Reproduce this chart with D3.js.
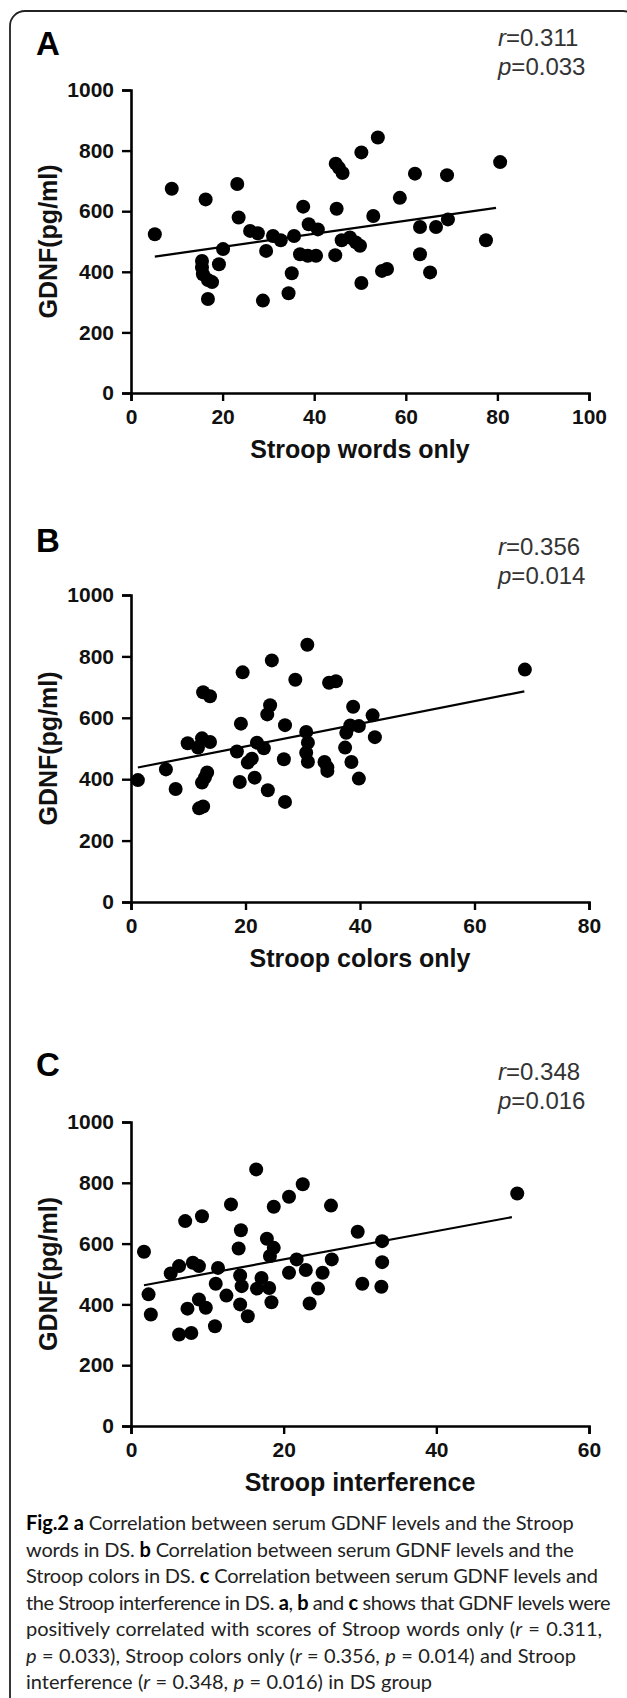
<!DOCTYPE html>
<html>
<head>
<meta charset="utf-8">
<script src="https://cdn.jsdelivr.net/npm/d3@7"></script>
<style>
  body { margin: 0; background: #fff; }
  svg { display: block; }
</style>
</head>
<body>
<div id="figure"></div>
<script>
// Stroop words only vs GDNF
const wordsX = [5.2, 8.9, 16.3, 23.2, 23.5, 26.0, 27.7, 29.5, 31.0, 32.7, 35.6, 37.6, 38.8, 40.8, 36.9, 38.6, 40.4, 35.1, 34.4, 44.7, 45.4, 46.2, 44.9, 44.6, 46.0, 47.8, 49.1, 50.0, 50.3, 53.9, 52.9, 54.8, 55.9, 50.3, 58.7, 62.0, 63.1, 63.1, 65.3, 66.6, 69.0, 69.2, 77.5, 80.6, 15.5, 15.5, 15.7, 16.8, 17.7, 16.8, 19.2, 20.1, 28.8];
const wordsY = [524, 674, 639, 690, 579, 535, 527, 469, 518, 504, 518, 615, 557, 540, 458, 453, 453, 395, 329, 757, 743, 726, 608, 455, 504, 513, 497, 486, 794, 843, 584, 403, 409, 363, 644, 724, 548, 458, 398, 548, 719, 573, 504, 762, 436, 414, 392, 373, 366, 310, 425, 475, 305];

// Stroop colors only vs GDNF
const colorsX = [1.2, 6.1, 7.8, 9.9, 11.7, 12.4, 13.8, 12.6, 13.8, 11.9, 12.6, 12.4, 12.9, 13.3, 18.5, 19.2, 19.0, 19.5, 20.4, 21.1, 21.6, 22.0, 23.2, 23.8, 24.3, 23.9, 24.6, 26.9, 26.7, 26.9, 28.7, 30.8, 30.6, 30.9, 30.6, 30.9, 33.8, 34.3, 34.3, 34.6, 35.8, 37.6, 38.3, 37.4, 38.5, 38.8, 39.8, 39.8, 42.2, 42.6, 68.8];
const colorsY = [397, 432, 368, 517, 503, 533, 521, 683, 670, 305, 311, 389, 405, 422, 490, 581, 391, 748, 454, 467, 405, 519, 501, 611, 641, 364, 787, 576, 465, 326, 724, 838, 554, 519, 486, 457, 456, 438, 427, 714, 719, 551, 575, 503, 456, 636, 573, 402, 608, 537, 757];

// Stroop interference vs GDNF
const interfX = [1.7, 2.3, 2.6, 5.2, 6.3, 8.1, 8.9, 7.1, 9.3, 6.3, 7.9, 7.4, 8.9, 9.8, 11.0, 11.1, 11.4, 12.5, 13.1, 14.1, 14.4, 14.3, 14.5, 14.3, 15.3, 16.4, 16.5, 17.1, 17.8, 18.7, 18.2, 18.1, 18.4, 18.7, 20.7, 20.7, 21.7, 22.5, 22.9, 23.4, 24.5, 25.1, 26.2, 26.3, 29.7, 30.3, 32.8, 32.9, 32.9, 50.6];
const interfY = [573, 433, 367, 502, 526, 537, 526, 674, 690, 301, 306, 386, 416, 389, 328, 468, 520, 429, 729, 584, 644, 495, 460, 400, 361, 844, 452, 487, 616, 586, 559, 454, 407, 721, 754, 504, 548, 795, 513, 403, 452, 504, 725, 548, 639, 468, 458, 539, 608, 765];

// regression line end points as drawn
const fitWordsX = [5.2, 79.7], fitWordsY = [450, 611];
const fitColorsX = [1.2, 68.7], fitColorsY = [438, 686];
const fitInterfX = [1.7, 49.9], fitInterfY = [463, 687];

// ticks
const yTicks = [0, 200, 400, 600, 800, 1000];
const wordsTicks = [0, 20, 40, 60, 80, 100];
const colorsTicks = [0, 20, 40, 60, 80];
const interfTicks = [0, 20, 40, 60];

const panelLetters = ["A", "B", "C"];
const xTitles = ["Stroop words only", "Stroop colors only", "Stroop interference"];
const rValues = ["0.311", "0.356", "0.348"];
const pValues = ["0.033", "0.014", "0.016"];

(function() {
    const width = 627, height = 1698;
    const container = d3.select("#figure");
    container.selectAll("*").remove();
    const svg = container.append("svg").attr("width", width).attr("height", height);

    svg.append("rect").attr("width", width).attr("height", height).attr("fill", "#fff");

    // outer frame, cut at right and bottom
    svg.append("rect")
        .attr("x", 10).attr("y", 11)
        .attr("width", 628).attr("height", 1730)
        .attr("rx", 15)
        .attr("fill", "none")
        .attr("stroke", "#222")
        .attr("stroke-width", 1.8);

    const panels = [
        {xs: wordsX, ys: wordsY, fx: fitWordsX, fy: fitWordsY, ticks: wordsTicks, top: 90, bottom: 393, letterY: 55, statY: 46},
        {xs: colorsX, ys: colorsY, fx: fitColorsX, fy: fitColorsY, ticks: colorsTicks, top: 595, bottom: 902, letterY: 552, statY: 555},
        {xs: interfX, ys: interfY, fx: fitInterfX, fy: fitInterfY, ticks: interfTicks, top: 1122, bottom: 1426, letterY: 1076, statY: 1080}
    ];
    const left = 131, right = 589;
    const axisFont = "'Liberation Sans', Arial, sans-serif";

    panels.forEach((p, i) => {
        const x = d3.scaleLinear()
            .domain([0, p.ticks[p.ticks.length - 1]])
            .range([left, right]);
        const y = d3.scaleLinear().domain([0, 1000]).range([p.bottom, p.top]);

        const g = svg.append("g");

        // panel letter
        g.append("text")
            .attr("x", 36).attr("y", p.letterY)
            .style("font-family", axisFont)
            .style("font-weight", "bold")
            .style("font-size", "33px")
            .text(panelLetters[i]);

        // r and p
        const stat = g.append("g")
            .style("font-family", axisFont)
            .style("font-size", "24px")
            .attr("fill", "#333");
        const rt = stat.append("text").attr("x", 498).attr("y", p.statY);
        rt.append("tspan").style("font-style", "italic").text("r");
        rt.append("tspan").text("=" + rValues[i]);
        const pt = stat.append("text").attr("x", 498).attr("y", p.statY + 29);
        pt.append("tspan").style("font-style", "italic").text("p");
        pt.append("tspan").text("=" + pValues[i]);

        const xAxis = g.append("g")
            .attr("transform", `translate(0,${p.bottom})`)
            .call(d3.axisBottom(x).tickValues(p.ticks).tickFormat(d3.format("d")).tickSize(8).tickPadding(8));
        const yAxis = g.append("g")
            .attr("transform", `translate(${left},0)`)
            .call(d3.axisLeft(y).tickValues(yTicks).tickFormat(d3.format("d")).tickSize(9).tickPadding(8));

        [xAxis, yAxis].forEach(a => {
            a.select(".domain").attr("stroke", "#000").attr("stroke-width", 2.6);
            a.selectAll(".tick line").attr("stroke", "#000").attr("stroke-width", 2.4);
            a.selectAll(".tick text")
                .attr("fill", "#111")
                .style("font-family", axisFont)
                .style("font-weight", "bold")
                .style("font-size", "21px");
        });

        // axis titles
        g.append("text")
            .attr("x", (left + right) / 2)
            .attr("y", p.bottom + 65)
            .attr("text-anchor", "middle")
            .attr("fill", "#111")
            .style("font-family", axisFont)
            .style("font-weight", "bold")
            .style("font-size", "25px")
            .text(xTitles[i]);

        g.append("text")
            .attr("transform", `translate(57,${(p.top + p.bottom) / 2}) rotate(-90)`)
            .attr("text-anchor", "middle")
            .attr("fill", "#111")
            .style("font-family", axisFont)
            .style("font-weight", "bold")
            .style("font-size", "25px")
            .text("GDNF(pg/ml)");

        // regression line
        const line = d3.line().x(d => x(d[0])).y(d => y(d[1]));
        g.append("path")
            .datum(d3.zip(p.fx, p.fy))
            .attr("d", line)
            .attr("fill", "none")
            .attr("stroke", "#000")
            .attr("stroke-width", 2.2);

        // points
        g.selectAll("circle")
            .data(d3.zip(p.xs, p.ys))
            .enter().append("circle")
            .attr("cx", d => x(d[0]))
            .attr("cy", d => y(d[1]))
            .attr("r", 7)
            .attr("fill", "#000");
    });

    // caption: [text, style] segments per line, with measured line widths
    const captionLines = [
        [[["Fig.2 a", "b"], [" Correlation between serum GDNF levels and the Stroop", ""]], 548],
        [[["words in DS. ", ""], ["b", "b"], [" Correlation between serum GDNF levels and the", ""]], 548],
        [[["Stroop colors in DS. ", ""], ["c", "b"], [" Correlation between serum GDNF levels and", ""]], 572],
        [[["the Stroop interference in DS. ", ""], ["a", "b"], [", ", ""], ["b", "b"], [" and ", ""], ["c", "b"], [" shows that GDNF levels were", ""]], 584],
        [[["positively correlated with scores of Stroop words only (", ""], ["r", "i"], [" = 0.311,", ""]], 576],
        [[["p", "i"], [" = 0.033), Stroop colors only (", ""], ["r", "i"], [" = 0.356, ", ""], ["p", "i"], [" = 0.014) and Stroop", ""]], 550],
        [[["interference (", ""], ["r", "i"], [" = 0.348, ", ""], ["p", "i"], [" = 0.016) in DS group", ""]], 406]
    ];

    const cap = svg.append("g")
        .style("font-family", "Lato, 'Open Sans', sans-serif")
        .style("font-size", "20px")
        .attr("fill", "#222");

    captionLines.forEach((ln, k) => {
        const t = cap.append("text")
            .attr("x", 26)
            .attr("y", 1530 + k * 26.5);
        ln[0].forEach(seg => {
            const s = t.append("tspan").text(seg[0]);
            if (seg[1] === "b") s.style("font-weight", "bold").attr("fill", "#000");
            if (seg[1] === "i") s.style("font-style", "italic");
        });
        // fit the line to its width: wider word gaps if short, tighter letters if long
        const full = ln[0].map(s => s[0]).join("");
        const spaces = (full.match(/ /g) || []).length;
        const natural = t.node().getComputedTextLength();
        const diff = ln[1] - natural;
        if (diff >= 0) {
            t.style("word-spacing", (diff / spaces).toFixed(2) + "px");
        } else {
            t.style("letter-spacing", (diff / full.length).toFixed(3) + "px");
        }
    });
})();
</script>
</body>
</html>
